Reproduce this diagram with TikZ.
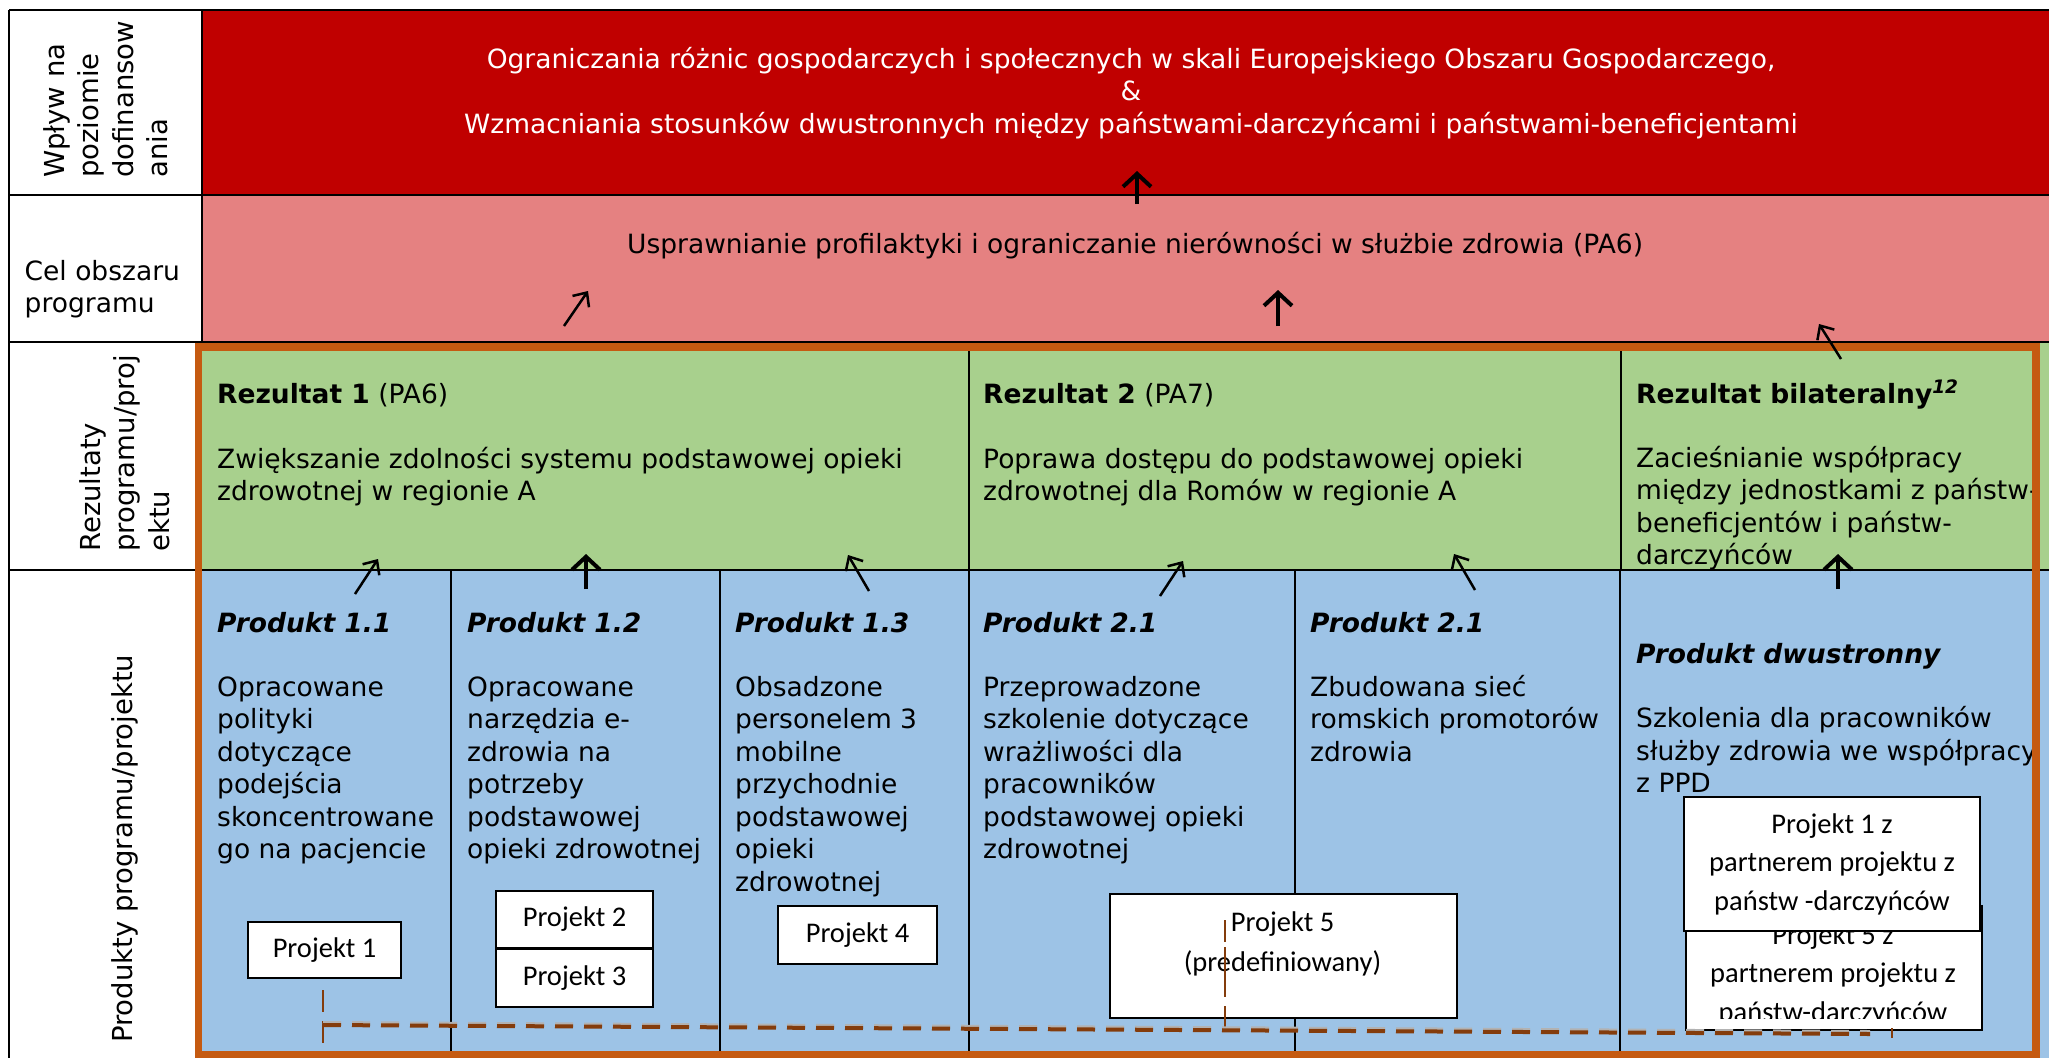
\documentclass[tikz,border=0pt]{standalone}
\usepackage{fontspec}
\setmainfont{DejaVu Sans}
\newfontfamily\calfont{Carlito}
\usetikzlibrary{arrows.meta}
\definecolor{rowred}{HTML}{C00000}
\definecolor{rowpink}{HTML}{E58181}
\definecolor{rowgreen}{HTML}{A8D08D}
\definecolor{rowblue}{HTML}{9DC3E6}
\definecolor{frameorange}{HTML}{C55A11}
\definecolor{dashbrown}{HTML}{843C0C}
\newcommand\firststrut{\rule{0pt}{25pt}}
\newcommand\mainsz{\fontsize{26.5}{32.5}\selectfont}
\newcommand\labsz{\fontsize{27.5}{34.5}\selectfont}
\newcommand\projsz{\calfont\fontsize{28.5}{38.5}\selectfont}
\begin{document}
\begin{tikzpicture}[x=1pt,y=-1pt,
  gridline/.style={line width=2.5pt,black},
  colline/.style={line width=1.6pt,black},
  bodytext/.style={inner sep=0pt,anchor=north west,align=left,font=\mainsz},
  headtext/.style={inner sep=0pt,anchor=base west,font=\mainsz},
  labeltext/.style={inner sep=0pt,anchor=north west,align=left,font=\labsz},
  projbox/.style={draw,line width=2pt,fill=white,inner sep=0pt,anchor=north west,align=center,font=\projsz},
  projtext/.style={inner sep=0pt,anchor=north,align=center,font=\projsz},
  thickarrow/.style={line width=4pt,-{Straight Barb[length=13pt,width=28pt]}},
  thinarrow/.style={line width=2.5pt,-{Straight Barb[length=11pt,width=20pt]}},
  thindash/.style={dashbrown,line width=1.5pt,dash pattern=on 22pt off 9pt},
  thickdash/.style={dashbrown,line width=4pt,dash pattern=on 18pt off 11pt}
]
\useasboundingbox (0,0) rectangle (2049,1058);
% row fills
\fill[white] (9,10) rectangle (202,1058);
\fill[rowred] (202,10) rectangle (2049,195);
\fill[rowpink] (202,195) rectangle (2049,343);
\fill[rowgreen] (202,343) rectangle (2049,570);
\fill[rowblue] (202,570) rectangle (2049,1058);
% grid lines
\draw[gridline] (9,10) -- (2049,10);
\draw[gridline] (9,195) -- (2049,195);
\draw[gridline] (9,342) -- (2049,342);
\draw[gridline] (9,570) -- (2049,570);
\draw[gridline] (9,10) -- (9,1058);
\draw[gridline] (202,10) -- (202,343);
\draw[colline] (969,343) -- (969,570);
\draw[colline] (1621,343) -- (1621,570);
\foreach \cx in {451,720,969,1295,1620} \draw[colline] (\cx,570) -- (\cx,1058);

% row labels
\node[labeltext,rotate=90] (labImpact) at (39,178) {\firststrut Wpływ na\\poziomie\\dofinansow\\ania};
\node[bodytext,font=\fontsize{26.5}{32}\selectfont] (labGoal) at (24.5,255) {\firststrut Cel obszaru\\programu};
\node[labeltext,rotate=90] (labRes) at (75,552) {\firststrut Rezultaty\\programu/proj\\ektu};
\node[labeltext,rotate=90] (labProd) at (107,1043) {\firststrut Produkty programu/projektu};

% impact and goal
\node[inner sep=0pt,anchor=north,align=center,font=\mainsz,text=white] (impact) at (1131,43)
 {\firststrut Ograniczania różnic gospodarczych i społecznych w skali Europejskiego Obszaru Gospodarczego,\\\&\\Wzmacniania stosunków dwustronnych między państwami-darczyńcami i państwami-beneficjentami};
\node[inner sep=0pt,anchor=base,font=\mainsz] (goal) at (1135,253)
 {Usprawnianie profilaktyki i ograniczanie nierówności w służbie zdrowia (PA6)};

% results
\node[headtext] (r1h) at (217,403) {\textbf{Rezultat 1} (PA6)};
\node[bodytext] (r1b) at (217,443) {\firststrut Zwiększanie zdolności systemu podstawowej opieki\\zdrowotnej w regionie A};
\node[headtext] (r2h) at (983,403) {\textbf{Rezultat 2} (PA7)};
\node[bodytext] (r2b) at (983,443) {\firststrut Poprawa dostępu do podstawowej opieki\\zdrowotnej dla Romów w regionie A};
\node[headtext] (rbh) at (1636,403) {\textbf{Rezultat bilateralny\textsuperscript{\textit{12}}}};
\node[bodytext] (rbb) at (1636,442) {\firststrut Zacieśnianie współpracy\\między jednostkami z państw-\\beneficjentów i państw-\\darczyńców};

% outputs
\node[headtext] (p11h) at (217,632) {\textbf{\textit{Produkt 1.1}}};
\node[bodytext] (p11b) at (217,671) {\firststrut Opracowane\\polityki\\dotyczące\\podejścia\\skoncentrowane\\go na pacjencie};
\node[headtext] (p12h) at (467,632) {\textbf{\textit{Produkt 1.2}}};
\node[bodytext] (p12b) at (467,671) {\firststrut Opracowane\\narzędzia e-\\zdrowia na\\potrzeby\\podstawowej\\opieki zdrowotnej};
\node[headtext] (p13h) at (735,632) {\textbf{\textit{Produkt 1.3}}};
\node[bodytext] (p13b) at (735,671) {\firststrut Obsadzone\\personelem 3\\mobilne\\przychodnie\\podstawowej\\opieki\\zdrowotnej};
\node[headtext] (p21h) at (983,632) {\textbf{\textit{Produkt 2.1}}};
\node[bodytext] (p21b) at (983,671) {\firststrut Przeprowadzone\\szkolenie dotyczące\\wrażliwości dla\\pracowników\\podstawowej opieki\\zdrowotnej};
\node[headtext] (p22h) at (1310,632) {\textbf{\textit{Produkt 2.1}}};
\node[bodytext] (p22b) at (1310,671) {\firststrut Zbudowana sieć\\romskich promotorów\\zdrowia};
\node[headtext] (pdh) at (1636,663) {\textbf{\textit{Produkt dwustronny}}};
\node[bodytext] (pdb) at (1636,702.5) {\firststrut Szkolenia dla pracowników\\służby zdrowia we współpracy\\z PPD};

% project boxes
\node[projbox,minimum width=153pt,minimum height=56pt] (proj1) at (247,921) {Projekt 1};
\node[projbox,minimum width=157pt,minimum height=57pt] (proj2) at (495,890) {Projekt 2};
\node[projbox,minimum width=157pt,minimum height=58pt] (proj3) at (495,948) {Projekt 3};
\node[projbox,minimum width=159pt,minimum height=58pt] (proj4) at (777,905) {Projekt 4};
\node[projbox,minimum width=347pt,minimum height=124pt] (proj5) at (1109,893) {};
\node[projtext,font=\calfont\fontsize{28.5}{40}\selectfont] (proj5t) at (1282.5,906) {\firststrut Projekt 5\\(predefiniowany)};
\node[projbox,minimum width=296pt,minimum height=124pt] (proj5z) at (1685,905) {};
\begin{scope}
\clip (1687,907) rectangle (1979,1018);
\node[projtext] (proj5zt) at (1833,919) {\firststrut Projekt 5 z\\partnerem projektu z\\państw-darczyńców};
\end{scope}
\node[projbox,minimum width=296pt,minimum height=134pt] (proj1z) at (1683,796) {Projekt 1 z\\partnerem projektu z\\państw -darczyńców};

% dashed links
\coordinate (d1a) at (323,990);
\coordinate (d1b) at (323,1058);
\coordinate (h1) at (323,1025);
\coordinate (h2) at (1870,1034);
\coordinate (v5a) at (1225,920);
\coordinate (v5b) at (1225,1030);
\coordinate (t1a) at (1892,1028);
\coordinate (t1b) at (1892,1038);
\draw[thindash] (d1a) -- (d1b);
\draw[thindash,dash pattern=on 22pt off 5pt on 50pt off 9pt] (v5a) -- (v5b);
\draw[dashbrown,line width=1.5pt] (t1a) -- (t1b);
\draw[gray!60,line width=3pt,dash pattern=on 18pt off 11pt] ([yshift=2.5pt]h1) -- ([yshift=2.5pt]h2);
\draw[thickdash] (h1) -- (h2);

% orange frame
\draw[frameorange,line width=7.5pt] (198.5,347.2) rectangle (2036,1054.5);

% arrows
\coordinate (a1s) at (1137,204); \coordinate (a1e) at (1137,171);
\coordinate (a2s) at (1278,326); \coordinate (a2e) at (1278,290);
\coordinate (a3s) at (564,326);  \coordinate (a3e) at (588,291);
\coordinate (a4s) at (1841,359); \coordinate (a4e) at (1819,324);
\coordinate (a5s) at (355,594);  \coordinate (a5e) at (378,559);
\coordinate (a6s) at (586,589);  \coordinate (a6e) at (586,554);
\coordinate (a7s) at (869,591);  \coordinate (a7e) at (848,555);
\coordinate (a8s) at (1160,596); \coordinate (a8e) at (1183,561);
\coordinate (a9s) at (1475,590); \coordinate (a9e) at (1454,554);
\coordinate (a10s) at (1838,589); \coordinate (a10e) at (1838,554);
\draw[thickarrow] (a1s) -- (a1e);
\draw[thickarrow] (a2s) -- (a2e);
\draw[thinarrow] (a3s) -- (a3e);
\draw[thinarrow] (a4s) -- (a4e);
\draw[thinarrow] (a5s) -- (a5e);
\draw[thickarrow] (a6s) -- (a6e);
\draw[thinarrow] (a7s) -- (a7e);
\draw[thinarrow] (a8s) -- (a8e);
\draw[thinarrow] (a9s) -- (a9e);
\draw[thickarrow] (a10s) -- (a10e);
\end{tikzpicture}
\end{document}
